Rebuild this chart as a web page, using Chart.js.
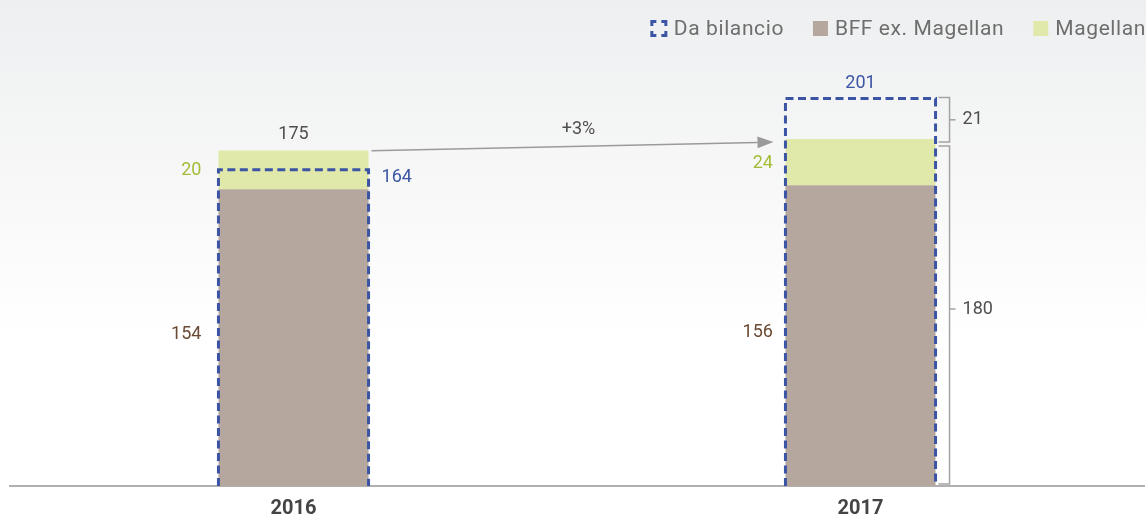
<!DOCTYPE html>
<html>
<head>
<meta charset="utf-8">
<script src="https://cdn.jsdelivr.net/npm/chart.js@4.4.1/dist/chart.umd.min.js"></script>
<style>
  html, body { margin: 0; padding: 0; background: #ffffff; }
  #wrap { width: 1146px; height: 517px; position: relative; }
</style>
</head>
<body>
<div id="wrap"><canvas id="c" width="1146" height="517"></canvas></div>
<script>
// ---- data ----
const categories = ['2016', '2017'];
const bffExMagellan = [154, 156];
const magellan = [20, 24];
const daBilancio = [164, 201];
const totals = [175, 180];
const seriesNames = ['BFF ex. Magellan', 'Magellan', 'Da bilancio'];

// ---- styles ----
const BLUE = '#3b55a4';
const BROWN = '#b5a79e';
const GREEN = '#e0e9a9';
const GREEN_TXT = '#a4bc37';
const BROWN_TXT = '#6b4a34';
const DARK_TXT = '#4f4f4f';
const LEGEND_TXT = '#6e6e6e';
const GREY_LINE = '#a3a3a3';
const FONT = 'Roboto, "DejaVu Sans", sans-serif';

const bgPlugin = {
  id: 'bg',
  beforeDraw(chart) {
    const { ctx, width, height } = chart;
    const g = ctx.createLinearGradient(0, 0, 0, 340);
    g.addColorStop(0, '#eeeff0');
    g.addColorStop(1, '#ffffff');
    ctx.save();
    ctx.fillStyle = g;
    ctx.fillRect(0, 0, width, height);
    ctx.restore();
  }
};

function setSpacing(ctx, v) { if ('letterSpacing' in ctx) ctx.letterSpacing = v; }

const overlayPlugin = {
  id: 'overlay',
  afterDatasetsDraw(chart) {
    const { ctx } = chart;
    const yS = chart.scales.y;
    const m0 = chart.getDatasetMeta(0), m1 = chart.getDatasetMeta(1), m2 = chart.getDatasetMeta(2);
    const last = categories.length - 1;
    const geo = [];
    categories.forEach((c, i) => {
      const bff = m0.data[i], mag = m1.data[i], db = m2.data[i];
      const left = bff.x - bff.width / 2, right = bff.x + bff.width / 2;
      geo.push({ left, right, top: mag.y, base: bff.base });

      // dashed "Da bilancio" box
      ctx.save();
      ctx.strokeStyle = BLUE;
      ctx.lineWidth = 3;
      ctx.setLineDash([8, 4.5]);
      ctx.beginPath();
      ctx.moveTo(left, db.base);
      ctx.lineTo(left, db.y);
      ctx.lineTo(right, db.y);
      ctx.lineTo(right, db.base);
      ctx.stroke();
      ctx.restore();

      ctx.save();
      ctx.font = '18px ' + FONT;
      ctx.textBaseline = 'middle';
      const gap = i === 0 ? 17 : 12.5;
      // BFF label
      ctx.fillStyle = BROWN_TXT;
      ctx.textAlign = 'right';
      ctx.fillText(String(bffExMagellan[i]), left - gap, (bff.y + bff.base) / 2 - 3);
      // Magellan label
      ctx.fillStyle = GREEN_TXT;
      ctx.fillText(String(magellan[i]), left - gap, (mag.y + mag.base) / 2 + 1);
      // Da bilancio label
      ctx.fillStyle = BLUE;
      if (daBilancio[i] > totals[i]) {
        ctx.textAlign = 'center';
        ctx.fillText(String(daBilancio[i]), bff.x, db.y - 15);
      } else {
        ctx.textAlign = 'left';
        ctx.fillText(String(daBilancio[i]), right + 13, db.y + 8);
      }
      // total label (first category)
      if (i !== last) {
        ctx.fillStyle = DARK_TXT;
        ctx.textAlign = 'center';
        ctx.fillText(String(totals[i]), bff.x, mag.y - 16);
      }
      ctx.restore();

      // brackets on last category
      if (i === last) {
        const bx = right + 14;
        ctx.save();
        ctx.strokeStyle = GREY_LINE;
        ctx.lineWidth = 1.5;
        const segs = [
          [db.y - 1, mag.y + 3, daBilancio[i] - totals[i], 0],
          [mag.y + 7, bff.base - 2, totals[i], -6]
        ];
        segs.forEach(([t, b, val, off]) => {
          ctx.beginPath();
          ctx.moveTo(bx - 11, t);
          ctx.lineTo(bx, t);
          ctx.lineTo(bx, b);
          ctx.lineTo(bx - 11, b);
          ctx.stroke();
          const mid = (t + b) / 2 + off;
          ctx.beginPath();
          ctx.moveTo(bx, mid);
          ctx.lineTo(bx + 6, mid);
          ctx.stroke();
          ctx.fillStyle = DARK_TXT;
          ctx.font = '18px ' + FONT;
          ctx.textAlign = 'left';
          ctx.textBaseline = 'middle';
          ctx.fillText(String(val), bx + 13, mid);
        });
        ctx.restore();
      }
    });

    // growth arrow
    const a = geo[0], b = geo[last];
    const x1 = a.right + 3, y1 = yS.getPixelForValue(totals[0]) + 2;
    const x2 = b.left - 12, y2 = b.top + 3;
    const head = 16, hw = 6;
    const ang = Math.atan2(y2 - y1, x2 - x1);
    ctx.save();
    ctx.strokeStyle = '#9a9a9a';
    ctx.fillStyle = '#9a9a9a';
    ctx.lineWidth = 1.5;
    ctx.beginPath();
    ctx.moveTo(x1, y1);
    ctx.lineTo(x2 - head * Math.cos(ang), y2 - head * Math.sin(ang));
    ctx.stroke();
    ctx.beginPath();
    ctx.moveTo(x2, y2);
    ctx.lineTo(x2 - head * Math.cos(ang) + hw * Math.sin(ang), y2 - head * Math.sin(ang) - hw * Math.cos(ang));
    ctx.lineTo(x2 - head * Math.cos(ang) - hw * Math.sin(ang), y2 - head * Math.sin(ang) + hw * Math.cos(ang));
    ctx.closePath();
    ctx.fill();
    const pct = Math.round((totals[last] / totals[0] - 1) * 100);
    ctx.fillStyle = DARK_TXT;
    ctx.font = '18px ' + FONT;
    ctx.textAlign = 'center';
    ctx.textBaseline = 'middle';
    ctx.fillText((pct >= 0 ? '+' : '') + pct + '%', (x1 + x2) / 2 + 6, (y1 + y2) / 2 - 17);
    ctx.restore();
  },
  afterDraw(chart) {
    // legend (right aligned)
    const { ctx } = chart;
    const items = [
      { text: seriesNames[2], type: 'dash', color: BLUE },
      { text: seriesNames[0], type: 'box', color: BROWN },
      { text: seriesNames[1], type: 'box', color: GREEN }
    ];
    ctx.save();
    ctx.font = '21px ' + FONT;
    setSpacing(ctx, '0.6px');
    ctx.textBaseline = 'middle';
    ctx.textAlign = 'left';
    let x = 1146;
    const cy = 30;
    for (let k = items.length - 1; k >= 0; k--) {
      const it = items[k];
      const w = ctx.measureText(it.text).width;
      const tx = x - w;
      ctx.fillStyle = LEGEND_TXT;
      ctx.fillText(it.text, tx, cy);
      const bxr = tx - 7;
      if (it.type === 'box') {
        ctx.fillStyle = it.color;
        ctx.fillRect(bxr - 15, 21, 15, 15);
      } else {
        ctx.save();
        ctx.strokeStyle = it.color;
        ctx.lineWidth = 3;
        ctx.setLineDash([9, 5]);
        ctx.lineDashOffset = 4.5;
        ctx.strokeRect(bxr - 15, 21.5, 14, 14);
        ctx.restore();
      }
      x = bxr - 15 - 29;
    }
    ctx.restore();
  }
};

new Chart(document.getElementById('c'), {
  type: 'bar',
  data: {
    labels: categories,
    datasets: [
      { label: seriesNames[0], data: bffExMagellan, backgroundColor: BROWN, stack: 's', borderWidth: 0 },
      { label: seriesNames[1], data: magellan, backgroundColor: GREEN, stack: 's', borderWidth: 0 },
      { label: seriesNames[2], data: daBilancio, backgroundColor: 'rgba(0,0,0,0)', stack: 'd', grouped: false, borderWidth: 0 }
    ]
  },
  options: {
    responsive: false,
    devicePixelRatio: 1,
    animation: false,
    categoryPercentage: 0.2647,
    barPercentage: 1,
    layout: { padding: { top: 60, left: 10, right: 2, bottom: -15 } },
    plugins: { legend: { display: false }, tooltip: { enabled: false } },
    scales: {
      x: {
        stacked: true,
        grid: { display: false, drawTicks: false },
        border: { display: true, color: '#b0b0b0', width: 2 },
        ticks: { color: '#444444', padding: 14, font: { family: FONT, size: 20, weight: 'bold', lineHeight: 0.9 } }
      },
      y: {
        stacked: true,
        display: false,
        min: 0,
        max: 221
      }
    }
  },
  plugins: [bgPlugin, overlayPlugin]
});
</script>
</body>
</html>
